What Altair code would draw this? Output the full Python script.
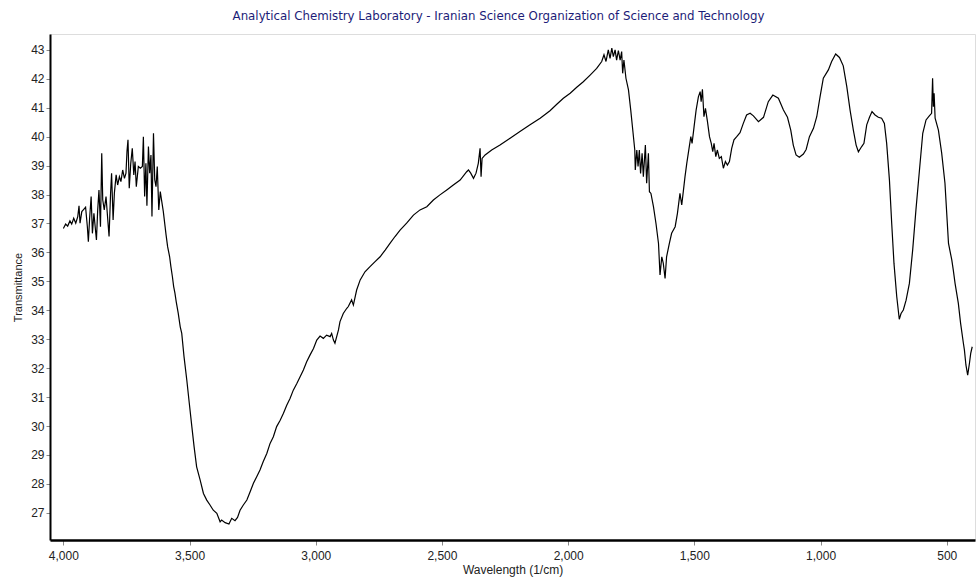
import altair as alt
import pandas as pd

# Wavenumber (1/cm)
wavenumber = [
    4000, 3991, 3983, 3974, 3967, 3959, 3951, 3943, 3938, 3934, 3927, 3921, 3912, 3905,
    3901, 3896, 3890, 3885, 3879, 3869, 3864, 3859, 3853, 3848, 3844, 3838, 3831, 3824,
    3819, 3813, 3809, 3803, 3798, 3791, 3785, 3778, 3772, 3765, 3758, 3752, 3748, 3744,
    3739, 3733, 3727, 3721, 3716, 3711, 3703, 3695, 3687, 3683, 3678, 3673, 3669, 3663,
    3658, 3653, 3649, 3643, 3638, 3633, 3628, 3622, 3616, 3611, 3604, 3597, 3593, 3587,
    3579, 3574, 3568, 3563, 3558, 3553, 3545, 3537,
    3531, 3522, 3511, 3501, 3491, 3482, 3472, 3458, 3445, 3432, 3419, 3406, 3392, 3379,
    3373, 3359, 3344, 3333, 3320, 3310, 3300, 3287, 3273, 3260, 3247, 3234, 3221, 3208,
    3194, 3181, 3168, 3155, 3141, 3128, 3115, 3102, 3089, 3075, 3062, 3049, 3036, 3023,
    3009, 2996, 2983, 2970, 2957, 2943, 2937, 2930, 2924, 2910, 2904, 2891, 2877,
    2871, 2858, 2851, 2838, 2824, 2805, 2785, 2765, 2745, 2725, 2706, 2686, 2666, 2640,
    2613, 2587, 2560, 2534, 2508, 2481, 2455, 2428, 2402, 2395, 2386, 2375, 2365, 2356,
    2349, 2345, 2341, 2329, 2303, 2270, 2230, 2191, 2151, 2111, 2072, 2045,
    2019, 1992, 1966, 1940, 1913, 1887, 1867, 1858, 1850, 1841, 1834, 1827, 1821, 1814,
    1808, 1801, 1794, 1788, 1784, 1779, 1771, 1761, 1752, 1744, 1736, 1734, 1728, 1723,
    1718, 1713, 1707, 1702, 1694, 1689, 1682, 1678, 1672, 1662, 1652, 1642, 1636, 1629,
    1623, 1616, 1610, 1599, 1590, 1576, 1567, 1557, 1550, 1543, 1537, 1530, 1520, 1514,
    1509, 1501, 1493, 1484, 1477, 1473, 1468, 1462, 1456, 1448, 1440, 1433, 1427, 1422,
    1415, 1409, 1401, 1393, 1385, 1377, 1369, 1361, 1352, 1343, 1332, 1319, 1306, 1293,
    1279, 1266, 1246, 1226, 1207, 1189, 1167, 1147, 1131, 1118, 1108, 1097, 1084, 1068,
    1057, 1044, 1028, 1015, 1002, 989, 969, 956, 940, 925, 910, 896, 883, 870,
    859, 850, 837, 828, 817, 806, 796, 784, 771, 758, 747, 738, 727, 718,
    709, 698, 688, 681, 672, 661, 648, 635, 622, 608, 595, 582, 569, 560,
    556, 553, 550, 546, 533, 520, 507, 493, 480, 474, 467, 454, 445, 434,
    430, 424, 417, 410, 405, 399,
]

# Transmittance values at each wavenumber
transmittance = [
    36.83, 36.98, 36.91, 37.09, 36.98, 37.18, 37.01, 37.24, 37.61, 37.01, 37.41, 37.47, 37.56, 36.89,
    36.37, 37.18, 37.93, 36.66, 37.35, 36.43, 37.47, 38.16, 36.89, 39.43, 37.81, 37.47, 37.93, 37.12,
    36.55, 38.04, 38.74, 37.12, 38.04, 38.68, 38.33, 38.62, 38.45, 38.85, 38.56, 38.74, 39.49, 39.89,
    38.22, 39.08, 39.60, 38.68, 39.14, 38.27, 38.97, 38.91, 38.97, 40.00, 37.93, 39.08, 37.61, 39.66,
    38.74, 39.37, 37.24, 40.12, 38.51, 38.27, 38.97, 37.47, 38.10, 37.81, 37.41, 36.89, 36.60, 36.20,
    35.85, 35.51, 35.16, 34.82, 34.59, 34.30, 33.90, 33.43,
    33.20, 32.40, 31.59, 30.78, 29.98, 29.28, 28.59, 28.13, 27.67, 27.44, 27.27, 27.09, 26.98, 26.69,
    26.75, 26.66, 26.61, 26.81, 26.73, 26.84, 27.09, 27.27, 27.44, 27.73, 28.02, 28.25, 28.48, 28.77,
    29.05, 29.40, 29.63, 29.98, 30.20, 30.44, 30.72, 30.95, 31.24, 31.47, 31.70, 31.94, 32.22, 32.45,
    32.68, 32.97, 33.11, 33.03, 33.14, 33.09, 33.20, 32.97, 32.86, 33.32, 33.61, 33.89, 34.07,
    34.13, 34.36, 34.18, 34.70, 35.05, 35.33, 35.51, 35.68, 35.85, 36.08, 36.31, 36.55, 36.77, 37.01,
    37.29, 37.47, 37.58, 37.81, 37.99, 38.16, 38.33, 38.50, 38.79, 38.85, 38.74, 38.56, 38.74, 39.08,
    39.60, 38.62, 39.25, 39.37, 39.54, 39.71, 39.95, 40.18, 40.41, 40.64, 40.90, 41.12,
    41.33, 41.50, 41.71, 41.90, 42.13, 42.36, 42.60, 42.83, 42.60, 43.00, 42.71, 43.06, 42.77, 43.00,
    42.65, 42.98, 42.65, 42.94, 42.19, 42.65, 42.02, 41.62, 40.92, 40.23, 39.54, 38.85, 39.54, 38.97,
    39.54, 38.73, 39.43, 38.62, 39.71, 38.39, 39.43, 38.10, 38.04, 37.58, 37.00, 36.31, 35.22, 35.85,
    35.62, 35.10, 35.85, 36.31, 36.66, 36.89, 37.35, 38.04, 37.64, 38.16, 38.62, 39.08, 39.66, 40.00,
    39.77, 40.35, 40.92, 41.38, 41.56, 41.21, 41.64, 40.69, 40.98, 40.52, 40.00, 39.77, 39.48, 39.77,
    39.31, 39.54, 39.25, 39.31, 38.91, 39.14, 39.02, 39.14, 39.60, 39.89, 40.00, 40.14, 40.46, 40.75,
    40.81, 40.72, 40.52, 40.67, 41.21, 41.44, 41.33, 40.92, 40.67, 40.23, 39.71, 39.37, 39.29, 39.40,
    39.56, 40.00, 40.29, 40.69, 41.38, 42.02, 42.31, 42.60, 42.86, 42.74, 42.45, 41.73, 40.92, 40.23,
    39.71, 39.48, 39.66, 39.77, 40.41, 40.67, 40.87, 40.75, 40.67, 40.64, 40.46, 39.77, 38.50, 37.00,
    35.62, 34.47, 33.69, 33.89, 34.01, 34.35, 34.93, 36.08, 37.47, 38.85, 40.12, 40.58, 40.72, 40.81,
    42.02, 41.04, 41.50, 40.64, 40.23, 39.43, 38.39, 36.31, 35.74, 35.39, 34.93, 34.24, 33.55, 32.86,
    32.63, 32.11, 31.76, 32.17, 32.51, 32.74,
]

x_ticks = [4000, 3500, 3000, 2500, 2000, 1500, 1000, 500]
y_ticks = list(range(27, 44))

df = pd.DataFrame({
    "wn": wavenumber,
    "t": transmittance,
    "i": list(range(len(wavenumber))),
})

title_text = "Analytical Chemistry Laboratory - Iranian Science Organization of Science and Technology"

chart = alt.Chart(df).mark_line(color="black", strokeWidth=1.2, clip=True).encode(
    x=alt.X(
        "wn:Q",
        scale=alt.Scale(domain=[388, 4053], reverse=True, nice=False, zero=False),
        axis=alt.Axis(
            values=x_ticks, format=",d", title="Wavelength (1/cm)",
            grid=False, tickSize=5, labelPadding=5, titlePadding=3,
            labelFont="Liberation Sans", labelFontSize=12, labelColor="#222222",
            titleFont="Liberation Sans", titleFontSize=12, titleFontWeight="normal",
            titleColor="#222222", tickColor="#888888",
            domainColor="black", domainWidth=2.5, labelFlush=False,
        ),
    ),
    y=alt.Y(
        "t:Q",
        scale=alt.Scale(domain=[26.06, 43.55], nice=False, zero=False),
        axis=alt.Axis(
            values=y_ticks, format="d", title="Transmittance",
            grid=False, tickSize=4, labelPadding=2, titlePadding=7,
            labelFont="Liberation Sans", labelFontSize=12, labelColor="#222222",
            titleFont="Liberation Sans", titleFontSize=11, titleFontWeight="normal",
            titleColor="#222222", tickColor="#888888",
            domainColor="black", domainWidth=2, labelFlush=False,
        ),
    ),
    order="i:Q",
).properties(
    width=925,
    height=506,
    padding={"left": 50, "top": 34, "right": 1, "bottom": 42},
    autosize=alt.AutoSizeParams(type="none"),
    title=alt.TitleParams(
        title_text, font="DejaVu Sans", fontSize=11.8, fontWeight="normal",
        color="#1c1c78", anchor="middle", offset=11, dx=-14,
    ),
).configure_view(
    stroke="#555555", strokeWidth=1
).configure(background="white")

chart.save("out.html", embed_options={"renderer": "svg", "actions": False})
